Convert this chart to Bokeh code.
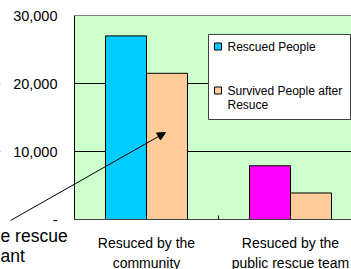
from bokeh.plotting import figure
from bokeh.models import (Range1d, FixedTicker, Label, Arrow, NormalHead,
                          BoxAnnotation, ColumnDataSource)
from bokeh.embed import file_html
from bokeh.resources import INLINE

# ---- data ----
categories = ["Resuced by the\ncommunity", "Resuced by the\npublic rescue team"]
rescued = [27000, 7900]
survived = [21500, 3900]
rescued_colors = ["#00CCFF", "#FF00FF"]
survived_color = "#FFCC99"
series_names = ["Rescued People", "Survived People after", "Resuce"]
y_ticks = [0, 10000, 20000, 30000]
y_tick_labels = ["-", "10,000", "20,000", "30,000"]
note_lines = ["e rescue", "ant"]

FONT = "Liberation Sans"
W, H = 351, 269
AX_L, AX_T, AX_B = 74, 15, 219      # plot-area edges in canvas pixels
CAT_PX = 144.0                       # pixels per category
YMAX = 30000
Y_PX = (AX_B - AX_T) / YMAX          # pixels per unit

x_start = 0.5 - AX_L / CAT_PX
x_end = 0.5 + (W - AX_L) / CAT_PX
y_start = -(H - AX_B) / Y_PX
y_end = YMAX + AX_T / Y_PX


def px2x(cx):
    return x_start + cx / CAT_PX


def py2y(cy):
    return (AX_B - cy) / Y_PX


p = figure(width=W, height=H, x_range=Range1d(x_start, x_end),
           y_range=Range1d(y_start, y_end),
           output_backend="svg", toolbar_location=None,
           min_border_left=0, min_border_right=0, min_border_top=0,
           min_border_bottom=0)
p.background_fill_color = "white"
p.border_fill_color = "white"
p.outline_line_color = None

# plot area (green) with gray border
p.add_layout(BoxAnnotation(left=0.5, bottom=0, top=YMAX, fill_color="#CCFFCC",
                           fill_alpha=1, line_color="#808080", line_alpha=1,
                           line_width=1, level="image"))
# white cover left of the plot area (hides grid lines there)
p.add_layout(BoxAnnotation(right=0.5, fill_color="white", fill_alpha=1,
                           line_color=None, level="glyph"))

xs = [i + 1 for i in range(len(categories))]
bw = 41.0 / CAT_PX
src1 = ColumnDataSource(dict(x=[x - bw / 2 for x in xs], top=rescued, color=rescued_colors))
src2 = ColumnDataSource(dict(x=[x + bw / 2 for x in xs], top=survived))
p.vbar(x="x", top="top", bottom=0, width=bw, source=src1, fill_color="color",
       line_color="black")
p.vbar(x="x", top="top", bottom=0, width=bw, source=src2, fill_color=survived_color,
       line_color="black")

# grid
p.xgrid.visible = False
p.ygrid.ticker = FixedTicker(ticks=y_ticks[1:-1])
p.ygrid.grid_line_color = "black"
p.ygrid.grid_line_width = 1

# y axis
ya = p.yaxis[0]
ya.fixed_location = 0.5
ya.bounds = (0, YMAX)
ya.ticker = FixedTicker(ticks=y_ticks)
ya.major_label_overrides = {t: l for t, l in zip(y_ticks, y_tick_labels)}
ya.major_tick_in = 0
ya.major_tick_out = 0
ya.minor_tick_line_color = None
ya.major_label_standoff = 17
ya.major_label_text_font = FONT
ya.major_label_text_font_size = "14.5px"
ya.major_label_text_color = "black"
ya.axis_line_color = "black"

# x axis
xa = p.xaxis[0]
xa.fixed_location = 0
xa.bounds = (0.5, x_end)
xa.ticker = FixedTicker(ticks=xs, minor_ticks=[x + 0.5 for x in xs[:-1]])
xa.major_label_overrides = {x: c for x, c in zip(xs, categories)}
xa.major_tick_in = 0
xa.major_tick_out = 0
xa.minor_tick_in = 4
xa.minor_tick_out = 0
xa.minor_tick_line_color = "black"
xa.major_label_standoff = 15
xa.major_label_text_font = FONT
xa.major_label_text_font_size = "14px"
xa.major_label_text_line_height = 1.25
xa.major_label_text_color = "black"
xa.axis_line_color = "#404040"

# legend (drawn by hand)
p.add_layout(BoxAnnotation(left=px2x(208), right=px2x(350), top=py2y(34), bottom=py2y(119),
                           fill_color="white", fill_alpha=1, line_color="#404040",
                           line_width=1, line_alpha=1, level="underlay"))
p.scatter(x=[px2x(217.5)] * 2, y=[py2y(46), py2y(90)], marker="square", size=7,
          fill_color=[rescued_colors[0], survived_color], line_color="black")
for txt, cy in zip(series_names, [46, 90, 104]):
    p.add_layout(Label(x=px2x(227), y=py2y(cy), text=txt, text_font=FONT,
                       text_font_size="12px", text_baseline="middle", text_align="left",
                       text_color="black"))

# annotation
p.add_layout(Arrow(x_start=px2x(10), y_start=py2y(220), x_end=px2x(165), y_end=py2y(132),
                   line_color="black", line_width=1,
                   end=NormalHead(size=8, fill_color="black", line_color="black")))
for txt, cy in zip(note_lines, [235, 255]):
    p.add_layout(Label(x=px2x(0), y=py2y(cy), text=txt, text_font=FONT,
                       text_font_size="17.5px", text_baseline="alphabetic", text_align="left",
                       text_color="black"))

open("out.html", "w").write(file_html(p, INLINE))
